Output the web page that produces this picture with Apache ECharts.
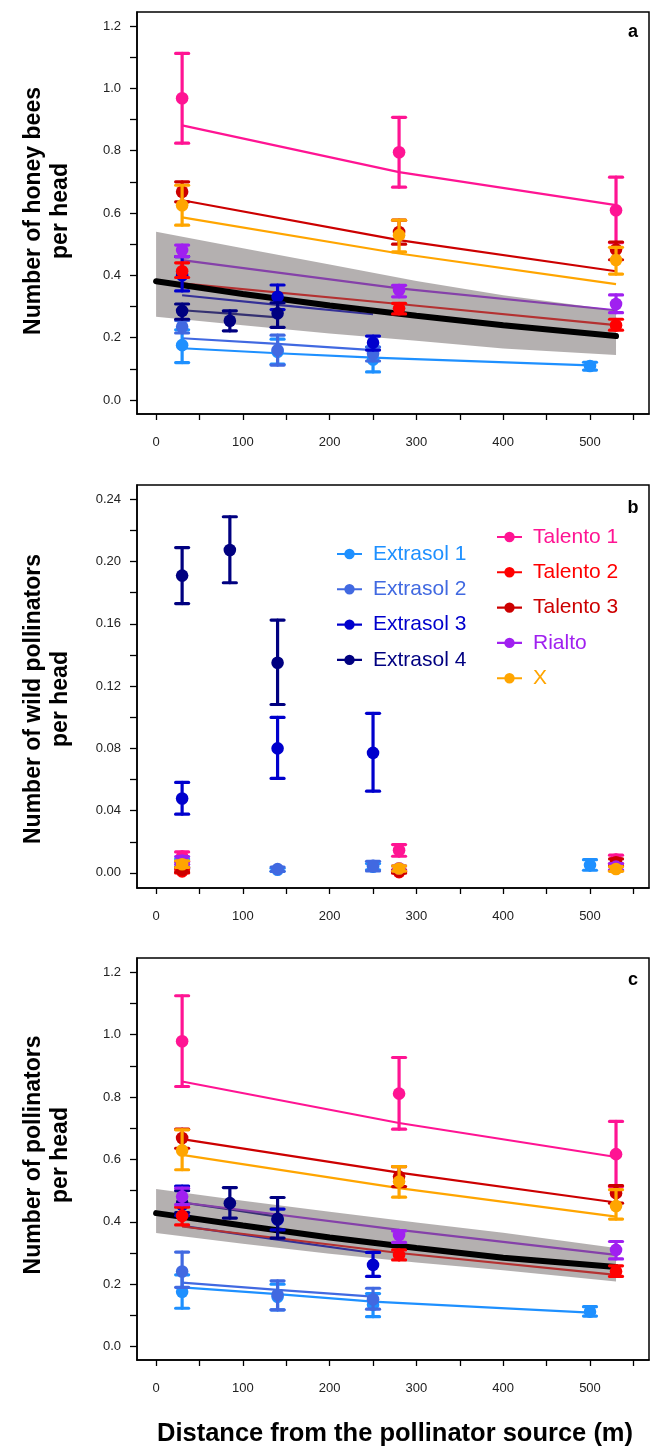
<!DOCTYPE html>
<html>
<head>
<meta charset="utf-8">
<script src="https://cdn.jsdelivr.net/npm/echarts@6.0.0/dist/echarts.min.js"></script>
<style>
  html, body { margin: 0; padding: 0; background: #fff; }
  #chart { width: 651px; height: 1451px; }
</style>
</head>
<body>
<div id="chart"></div>
<script>
// cultivars, in legend order
const cultivars = ['Extrasol 1', 'Extrasol 2', 'Extrasol 3', 'Extrasol 4', 'Talento 1', 'Talento 2', 'Talento 3', 'Rialto', 'X'];
const colors = ['#1E90FF', '#4169E1', '#0000CD', '#000080', '#FF1493', '#FF0000', '#CC0000', '#A020F0', '#FFA500'];
const distances = [
    [30, 140, 250, 500], [30, 140, 250], [30, 140, 250], [30, 85, 140],
    [30, 280, 530], [30, 280, 530], [30, 280, 530], [30, 280, 530], [30, 280, 530]
];

// a: honey bees per head
const beeMean = [
    [0.176, 0.155, 0.13, 0.109], [0.235, 0.16, 0.148], [0.40, 0.331, 0.184], [0.286, 0.254, 0.278],
    [0.968, 0.795, 0.609], [0.413, 0.294, 0.24], [0.668, 0.539, 0.483], [0.481, 0.353, 0.308], [0.625, 0.529, 0.449]
];
const beeLow = [
    [0.12, 0.115, 0.09, 0.096], [0.215, 0.112, 0.125], [0.35, 0.29, 0.16], [0.259, 0.222, 0.233],
    [0.824, 0.683, 0.505], [0.393, 0.276, 0.224], [0.636, 0.50, 0.45], [0.46, 0.331, 0.28], [0.561, 0.475, 0.404]
];
const beeHigh = [
    [0.225, 0.195, 0.17, 0.121], [0.255, 0.208, 0.17], [0.46, 0.369, 0.205], [0.308, 0.286, 0.312],
    [1.112, 0.907, 0.715], [0.44, 0.31, 0.259], [0.70, 0.577, 0.507], [0.497, 0.368, 0.337], [0.689, 0.577, 0.49]
];
const beeFit = [
    [0.166, 0.15, 0.136, 0.111], [0.198, 0.18, 0.16], [0.336, 0.305, 0.275], [0.288, 0.277, 0.265],
    [0.881, 0.731, 0.625], [0.374, 0.308, 0.24], [0.641, 0.513, 0.413], [0.449, 0.358, 0.288], [0.586, 0.47, 0.372]
];
const overallX = [0, 100, 200, 300, 400, 530];
const beeOverall = [0.381, 0.34, 0.303, 0.27, 0.24, 0.205];
const beeBandHigh = [0.54, 0.487, 0.435, 0.382, 0.336, 0.288];
const beeBandLow = [0.267, 0.24, 0.213, 0.19, 0.165, 0.144];

// b: wild pollinators per head
const wildMean = [
    [0.006, 0.002, 0.004, 0.005], [0.005, 0.0024, 0.0045], [0.0478, 0.080, 0.0771], [0.191, 0.2074, 0.135],
    [0.0105, 0.0146, 0.0085], [0.001, 0.0005, 0.003], [0.002, 0.001, 0.0068], [0.008, 0.003, 0.004], [0.0056, 0.0028, 0.0025]
];
const wildLow = [
    [0.004, 0.001, 0.002, 0.0017], [0.003, 0.001, 0.0013], [0.0377, 0.0607, 0.0525], [0.173, 0.1864, 0.1082],
    [0.0075, 0.0107, 0.006], [0, 0, 0.0015], [0.0005, 0, 0.0045], [0.0055, 0.0015, 0.002], [0.0035, 0.0012, 0.001]
];
const wildHigh = [
    [0.009, 0.003, 0.006, 0.0085], [0.007, 0.0038, 0.0075], [0.0581, 0.0999, 0.1025], [0.209, 0.2288, 0.1624],
    [0.0135, 0.0182, 0.0114], [0.002, 0.001, 0.0045], [0.0035, 0.002, 0.009], [0.0105, 0.0045, 0.006], [0.0078, 0.0045, 0.004]
];

// c: all pollinators per head
const allMean = [
    [0.176, 0.16, 0.134, 0.112], [0.241, 0.166, 0.152], [0.455, 0.407, 0.262], [0.46, 0.46, 0.41],
    [0.979, 0.811, 0.617], [0.419, 0.294, 0.241], [0.669, 0.545, 0.492], [0.481, 0.358, 0.31], [0.629, 0.529, 0.451]
];
const allLow = [
    [0.123, 0.118, 0.096, 0.098], [0.19, 0.118, 0.12], [0.42, 0.374, 0.225], [0.43, 0.412, 0.348],
    [0.834, 0.697, 0.513], [0.39, 0.278, 0.225], [0.636, 0.513, 0.46], [0.455, 0.334, 0.281], [0.567, 0.479, 0.409]
];
const allHigh = [
    [0.23, 0.2, 0.17, 0.128], [0.303, 0.211, 0.187], [0.515, 0.441, 0.302], [0.50, 0.51, 0.478],
    [1.125, 0.927, 0.722], [0.447, 0.31, 0.259], [0.697, 0.577, 0.516], [0.508, 0.371, 0.337], [0.695, 0.577, 0.503]
];
const allFit = [
    [0.19, 0.168, 0.144, 0.109], [0.205, 0.182, 0.16], [0.387, 0.343, 0.30], [0.462, 0.44, 0.417],
    [0.85, 0.717, 0.608], [0.385, 0.30, 0.23], [0.665, 0.558, 0.462], [0.462, 0.374, 0.294], [0.615, 0.508, 0.417]
];
const allOverall = [0.428, 0.388, 0.35, 0.316, 0.285, 0.255];
const allBandHigh = [0.505, 0.468, 0.432, 0.398, 0.365, 0.316];
const allBandLow = [0.364, 0.33, 0.298, 0.27, 0.245, 0.209];

// axis ticks
const xTicks = [0, 50, 100, 150, 200, 250, 300, 350, 400, 450, 500, 550];
const xLabels = [0, 100, 200, 300, 400, 500];
const yTicksAC = [0, 0.1, 0.2, 0.3, 0.4, 0.5, 0.6, 0.7, 0.8, 0.9, 1.0, 1.1, 1.2];
const yLabelsAC = [0, 0.2, 0.4, 0.6, 0.8, 1.0, 1.2];
const yTicksB = [0, 0.02, 0.04, 0.06, 0.08, 0.10, 0.12, 0.14, 0.16, 0.18, 0.20, 0.22, 0.24];
const yLabelsB = [0, 0.04, 0.08, 0.12, 0.16, 0.20, 0.24];

const FONT = 'Liberation Sans, Arial, sans-serif';
const chart = echarts.init(document.getElementById('chart'), null, { renderer: 'canvas' });

const gridBoxes = [
    { left: 137, top: 12, width: 512, height: 402 },
    { left: 137, top: 485, width: 512, height: 403 },
    { left: 137, top: 958, width: 512, height: 402 }
];

const xAxes = gridBoxes.map((g, i) => ({
    type: 'value', gridIndex: i, min: -22, max: 568,
    axisLine: { show: true, onZero: false, lineStyle: { color: '#000', width: 1.5 } },
    axisTick: { show: true, customValues: xTicks, length: 6, lineStyle: { color: '#000', width: 1.3 } },
    axisLabel: { customValues: xLabels, margin: 22, color: '#222', fontSize: 13, fontFamily: FONT },
    splitLine: { show: false }
}));

const yAxes = [
    { min: -0.045, max: 1.245, ticks: yTicksAC, labels: yLabelsAC, dec: 1 },
    { min: -0.0097, max: 0.2492, ticks: yTicksB, labels: yLabelsB, dec: 2 },
    { min: -0.043, max: 1.246, ticks: yTicksAC, labels: yLabelsAC, dec: 1 }
].map((a, i) => ({
    type: 'value', gridIndex: i, min: a.min, max: a.max,
    axisLine: { show: true, onZero: false, lineStyle: { color: '#000', width: 1.5 } },
    axisTick: { show: true, customValues: a.ticks, length: 7, lineStyle: { color: '#000', width: 1.3 } },
    axisLabel: {
        customValues: a.labels, margin: 16, color: '#222', fontSize: 13, fontFamily: FONT,
        formatter: v => Number(v).toFixed(a.dec)
    },
    splitLine: { show: false }
}));

function renderErrorPoint(params, api) {
    const x = api.value(0);
    const pm = api.coord([x, api.value(1)]);
    const pl = api.coord([x, api.value(2)]);
    const ph = api.coord([x, api.value(3)]);
    const color = api.visual('color');
    const cap = 6.5;
    const ls = { stroke: color, lineWidth: 3.2, lineCap: 'round' };
    return {
        type: 'group',
        children: [
            { type: 'line', shape: { x1: pl[0], y1: pl[1], x2: ph[0], y2: ph[1] }, style: ls },
            { type: 'line', shape: { x1: pl[0] - cap, y1: pl[1], x2: pl[0] + cap, y2: pl[1] }, style: ls },
            { type: 'line', shape: { x1: ph[0] - cap, y1: ph[1], x2: ph[0] + cap, y2: ph[1] }, style: ls },
            { type: 'circle', shape: { cx: pm[0], cy: pm[1], r: 6.3 }, style: { fill: color } }
        ]
    };
}

function bandSeries(p, hi, lo) {
    return {
        type: 'custom', xAxisIndex: p, yAxisIndex: p, z: 3, silent: true,
        data: [[0, 0]],
        renderItem: (params, api) => {
            const pts = [];
            overallX.forEach((x, k) => pts.push(api.coord([x, hi[k]])));
            for (let k = overallX.length - 1; k >= 0; k--) pts.push(api.coord([overallX[k], lo[k]]));
            return { type: 'polygon', shape: { points: pts }, style: { fill: 'rgba(105,98,98,0.5)' } };
        }
    };
}

function panelSeries(p, mean, low, high, fit, overall, bandHi, bandLo) {
    const out = [];
    if (fit) {
        cultivars.forEach((c, i) => {
            out.push({
                type: 'line', xAxisIndex: p, yAxisIndex: p, z: 2, silent: true,
                symbol: 'none',
                data: distances[i].map((x, k) => [x, fit[i][k]]),
                lineStyle: { color: colors[i], width: 2.2 }
            });
        });
        out.push(bandSeries(p, bandHi, bandLo));
        out.push({
            type: 'line', xAxisIndex: p, yAxisIndex: p, z: 4, silent: true,
            symbol: 'none',
            data: overallX.map((x, k) => [x, overall[k]]),
            lineStyle: { color: '#000', width: 6, cap: 'round' }
        });
    }
    cultivars.forEach((c, i) => {
        out.push({
            type: 'custom', name: c, xAxisIndex: p, yAxisIndex: p, z: 5,
            itemStyle: { color: colors[i] },
            data: distances[i].map((x, k) => [x, mean[i][k], low[i][k], high[i][k]]),
            encode: { x: 0, y: [1, 2, 3] },
            renderItem: renderErrorPoint
        });
    });
    return out;
}

const series = [].concat(
    panelSeries(0, beeMean, beeLow, beeHigh, beeFit, beeOverall, beeBandHigh, beeBandLow),
    panelSeries(1, wildMean, wildLow, wildHigh, null),
    panelSeries(2, allMean, allLow, allHigh, allFit, allOverall, allBandHigh, allBandLow)
);

const legendIcon = 'path://M0,5H24V7H0Z M17,6A5,5 0 1 1 7,6A5,5 0 1 1 17,6Z';
function legendBlock(names, left, top) {
    return {
        orient: 'vertical', left: left, top: top, selectedMode: false,
        itemWidth: 25, itemHeight: 12, itemGap: 13.3,
        textStyle: { fontSize: 21, lineHeight: 22, fontFamily: FONT, padding: [0, 0, 0, 6] },
        data: names.map(n => ({
            name: n, icon: legendIcon,
            textStyle: { color: colors[cultivars.indexOf(n)] }
        }))
    };
}

function yTitle(text, x, y) {
    return {
        type: 'text', x: x, y: y, rotation: Math.PI / 2,
        style: { text: text, font: 'bold 23px ' + FONT, fill: '#000', align: 'center', verticalAlign: 'middle', lineHeight: 27 }
    };
}
function panelLabel(text, y) {
    return {
        type: 'text', x: 633, y: y,
        style: { text: text, font: 'bold 18px ' + FONT, fill: '#000', align: 'center', verticalAlign: 'middle' }
    };
}

chart.setOption({
    animation: false,
    backgroundColor: '#fff',
    grid: gridBoxes.map(g => Object.assign({
        show: true, borderColor: '#000', borderWidth: 1.5, backgroundColor: 'transparent',
        containLabel: false, outerBoundsMode: 'none'
    }, g)),
    xAxis: xAxes,
    yAxis: yAxes,
    legend: [
        legendBlock(['Extrasol 1', 'Extrasol 2', 'Extrasol 3', 'Extrasol 4'], 332, 538),
        legendBlock(['Talento 1', 'Talento 2', 'Talento 3', 'Rialto', 'X'], 492, 521)
    ],
    graphic: [
        yTitle('Number of honey bees\nper head', 47, 211),
        yTitle('Number of wild pollinators\nper head', 47, 699),
        yTitle('Number of pollinators\nper head', 47, 1155),
        panelLabel('a', 32),
        panelLabel('b', 508),
        panelLabel('c', 980),
        {
            type: 'text', x: 395, y: 1434,
            style: { text: 'Distance from the pollinator source (m)', font: 'bold 25.5px ' + FONT, fill: '#000', align: 'center', verticalAlign: 'middle' }
        }
    ],
    series: series
});
</script>
</body>
</html>
